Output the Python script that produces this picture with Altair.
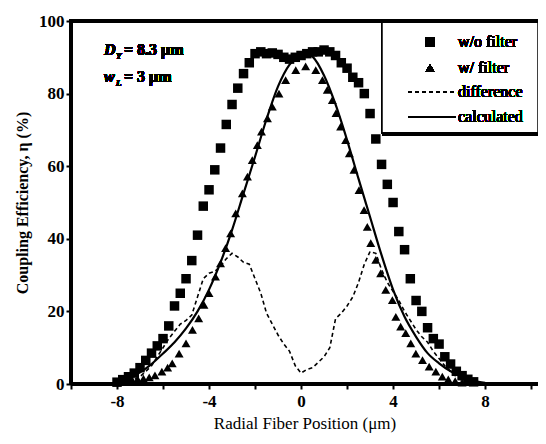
import altair as alt
import pandas as pd

# w/o filter (squares)
sq_x = [-8.0, -7.75, -7.5, -7.25, -7.0, -6.75, -6.5, -6.25, -6.0, -5.75, -5.5, -5.25, -5.0, -4.75,
        -4.5, -4.25, -4.0, -3.75, -3.5, -3.25, -3.0, -2.75, -2.5, -2.25, -2.0, -1.75, -1.5, -1.25,
        -1.0, -0.75, -0.5, -0.25, 0.0, 0.25, 0.5, 0.75, 1.0, 1.25, 1.5, 1.75, 2.0, 2.25, 2.5, 2.75,
        3.0, 3.25, 3.5, 3.75, 4.0, 4.25, 4.5, 4.75, 5.0, 5.25, 5.5, 5.75, 6.0, 6.25, 6.5, 6.75, 7.0,
        7.25, 7.5]
sq_y = [0.5, 1.2, 2.0, 3.0, 4.5, 6.5, 8.5, 10.5, 12.5, 16.0, 21.5, 25.0, 29.0, 34.0,
        41.0, 49.0, 53.5, 59.0, 65.0, 71.5, 77.0, 81.5, 85.5, 88.5, 91.0, 91.5, 91.0, 91.2,
        90.8, 90.0, 89.5, 90.0, 90.5, 91.0, 91.5, 91.5, 92.0, 91.5, 90.5, 88.5, 87.0, 84.5, 83.0, 80.0,
        74.5, 67.5, 60.5, 55.0, 50.0, 42.0, 37.0, 29.0, 23.0, 20.0, 15.5, 12.5, 11.0, 7.5, 5.5, 3.5, 2.3,
        1.3, 0.6]

# w/ filter (triangles)
tr_x = [-7.6, -7.35, -7.1, -6.85, -6.6, -6.35, -6.05, -5.8, -5.6, -5.3, -5.0, -4.72, -4.45, -4.22,
        -4.0, -3.72, -3.5, -3.28, -3.06, -2.84, -2.55, -2.33, -2.12, -1.9, -1.72, -1.46, -1.25, -0.96,
        -0.67, -0.23, 0.2, 0.64, 0.93, 1.14, 1.36, 1.52, 1.72, 1.94, 2.1, 2.3, 2.52, 2.74, 2.88, 3.03,
        3.25, 3.46, 3.68, 3.97, 4.12, 4.33, 4.55, 4.77, 4.99, 5.28, 5.57, 5.86, 6.14, 6.4, 6.7, 7.0]
tr_y = [1.0, 1.2, 1.3, 1.5, 1.8, 2.4, 3.4, 4.5, 5.7, 8.4, 11.2, 14.9, 18.1, 21.8,
        25.0, 29.6, 33.2, 37.4, 41.5, 47.0, 52.5, 57.1, 61.7, 65.8, 69.5, 73.2, 76.4, 80.0,
        83.7, 86.5, 87.5, 86.5, 83.7, 81.0, 78.2, 74.6, 70.9, 67.2, 63.5, 59.0, 53.4, 47.9, 43.3, 38.8,
        34.2, 30.5, 25.9, 23.1, 18.5, 15.8, 14.0, 11.2, 8.4, 6.6, 4.8, 3.4, 2.0, 1.3, 0.8, 0.4]

# difference (dashed)
df_x = [-7.5, -7.0, -6.5, -6.0, -5.75, -5.5, -5.25, -5.0, -4.75, -4.5, -4.25, -4.0, -3.75, -3.5,
        -3.25, -3.0, -2.75, -2.5, -2.25, -2.0, -1.75, -1.5, -1.25, -1.0, -0.75, -0.5, -0.25, 0.0,
        0.25, 0.5, 0.75, 1.0, 1.25, 1.5, 1.75, 2.0, 2.25, 2.5, 2.75, 3.0, 3.25, 3.5, 3.75, 4.0,
        4.25, 4.5, 4.75, 5.0, 5.25, 5.5, 5.75, 6.0, 6.25, 6.5, 6.75, 7.0, 7.5]
df_y = [0.5, 2.0, 5.0, 10.0, 12.5, 14.5, 16.5, 17.5, 19.0, 24.0, 29.0, 30.5, 31.0, 32.5,
        34.5, 36.0, 35.0, 33.5, 33.0, 29.0, 25.0, 19.5, 16.5, 13.5, 11.0, 9.0, 5.0, 3.0,
        4.0, 4.5, 6.0, 7.5, 10.0, 18.0, 19.5, 21.5, 24.0, 28.0, 33.0, 36.5, 36.0, 31.5, 28.0, 25.5,
        23.0, 20.0, 17.5, 15.0, 13.0, 11.5, 9.0, 7.0, 5.0, 3.5, 2.0, 1.0, 0.3]

# calculated (solid)
ca_x = [-8.5, -8.0, -7.5, -7.0, -6.5, -6.0, -5.5, -5.0, -4.5, -4.0, -3.5, -3.0, -2.5, -2.0, -1.5,
        -1.0, -0.5, 0.0, 0.25, 0.5, 1.0, 1.5, 2.0, 2.5, 3.0, 3.5, 4.0, 4.5, 5.0, 5.5, 6.0, 6.5, 7.0,
        7.5, 8.0]
ca_y = [0.1, 0.4, 1.5, 3.2, 5.5, 8.4, 11.5, 15.3, 20.0, 26.0, 33.5, 42.4, 52.5, 62.6, 73.0,
        82.0, 88.0, 90.6, 91.0, 90.2, 85.0, 77.0, 67.2, 56.5, 46.0, 35.5, 26.0, 18.5, 13.0, 8.5, 5.7, 3.5, 2.0,
        0.9, 0.3]

x_ticks = list(range(-10, 11))
y_ticks = list(range(0, 101, 10))

W, H = 467, 363
FONT = "Liberation Serif"

xs = alt.Scale(domain=[-10, 10.3], nice=False, zero=False)
ys = alt.Scale(domain=[0, 100], nice=False)

xax = alt.Axis(values=x_ticks, labelExpr="datum.value % 4 == 0 ? replace(datum.label, '−', '-') : ''",
               grid=False, title="Radial Fiber Position (μm)", tickSize=5, tickWidth=2,
               labelFont=FONT, titleFont=FONT, labelColor="black", titleColor="black",
               domainColor="black", tickColor="black",
               labelFontSize=17, labelFontWeight="bold", titleFontSize=17, titleFontWeight="normal",
               domainWidth=3, titlePadding=6, labelPadding=4)
yax = alt.Axis(values=y_ticks, labelExpr="datum.value % 20 == 0 ? datum.label : ''",
               grid=False, title="Coupling Efficiency, η (%)", tickSize=5, tickWidth=2,
               labelFont=FONT, titleFont=FONT, labelColor="black", titleColor="black",
               domainColor="black", tickColor="black",
               labelFontSize=17, labelFontWeight="bold", titleFontSize=16, titleFontWeight="bold",
               domainWidth=3, titlePadding=8, labelPadding=2)

sq = pd.DataFrame({"x": sq_x, "y": sq_y})
tr = pd.DataFrame({"x": tr_x, "y": tr_y})
dfd = pd.DataFrame({"x": df_x, "y": df_y})
ca = pd.DataFrame({"x": ca_x, "y": ca_y})

base_x = alt.X("x:Q", scale=xs, axis=xax)
base_y = alt.Y("y:Q", scale=ys, axis=yax)

calc = alt.Chart(ca).mark_line(color="black", strokeWidth=2.2, interpolate="monotone").encode(x=base_x, y=base_y)
diff = alt.Chart(dfd).mark_line(color="black", strokeWidth=1.6, strokeDash=[4, 3]).encode(x=alt.X("x:Q", scale=xs), y=alt.Y("y:Q", scale=ys))
squares = alt.Chart(sq).mark_point(shape="square", filled=True, color="black", size=90, opacity=1).encode(x=alt.X("x:Q", scale=xs), y=alt.Y("y:Q", scale=ys))
tris = alt.Chart(tr).mark_point(shape="triangle-up", filled=True, color="black", size=80, opacity=1).encode(x=alt.X("x:Q", scale=xs), y=alt.Y("y:Q", scale=ys))

# frame lines
top_line = alt.Chart(sq).mark_rule(color="black", strokeWidth=4).encode(
    x=alt.value(-2), x2=alt.value(W), y=alt.value(0))
left_line = alt.Chart(sq).mark_rule(color="black", strokeWidth=3).encode(
    x=alt.value(0), y=alt.value(0), y2=alt.value(H))
bottom_line = alt.Chart(sq).mark_rule(color="black", strokeWidth=3).encode(
    x=alt.value(0), x2=alt.value(W), y=alt.value(H))

# legend
leg_labels = ["w/o filter", "w/ filter", "difference", "calculated"]
leg_rows = [21, 47, 71, 96]
box = alt.Chart(sq).mark_rect(fill="white", stroke="black", strokeWidth=1.5).encode(
    x=alt.value(311), x2=alt.value(W), y=alt.value(0), y2=alt.value(112))
box_bottom = alt.Chart(sq).mark_rule(color="black", strokeWidth=4).encode(
    x=alt.value(311), x2=alt.value(W), y=alt.value(113))
leg_sq = alt.Chart(sq).mark_point(shape="square", filled=True, color="black", size=90, opacity=1).encode(
    x=alt.value(359), y=alt.value(leg_rows[0]))
leg_tr = alt.Chart(sq).mark_point(shape="triangle-up", filled=True, color="black", size=80, opacity=1).encode(
    x=alt.value(359), y=alt.value(leg_rows[1]))
leg_d = alt.Chart(sq).mark_rule(color="black", strokeWidth=1.6, strokeDash=[4, 3]).encode(
    x=alt.value(337), x2=alt.value(385), y=alt.value(leg_rows[2]))
leg_c = alt.Chart(sq).mark_rule(color="black", strokeWidth=2).encode(
    x=alt.value(337), x2=alt.value(385), y=alt.value(leg_rows[3]))
leg_texts = [
    alt.Chart(sq).mark_text(text=lab, align="left", baseline="middle", font=FONT, fontSize=16,
                            color="black").encode(x=alt.value(387), y=alt.value(r))
    for lab, r in zip(leg_labels, leg_rows)
]

# annotation
ann = [
    alt.Chart(sq).mark_text(text="D", align="left", baseline="alphabetic", font=FONT, fontSize=16,
                            fontWeight="bold", fontStyle="italic", color="black").encode(x=alt.value(33), y=alt.value(34)),
    alt.Chart(sq).mark_text(text="Y", align="left", baseline="alphabetic", font=FONT, fontSize=9,
                            fontWeight="bold", fontStyle="italic", color="black").encode(x=alt.value(45), y=alt.value(38)),
    alt.Chart(sq).mark_text(text="= 8.3 μm", align="left", baseline="alphabetic", font=FONT, fontSize=16,
                            fontWeight="bold", color="black").encode(x=alt.value(53), y=alt.value(34)),
    alt.Chart(sq).mark_text(text="w", align="left", baseline="alphabetic", font=FONT, fontSize=16,
                            fontWeight="bold", fontStyle="italic", color="black").encode(x=alt.value(33), y=alt.value(61)),
    alt.Chart(sq).mark_text(text="L", align="left", baseline="alphabetic", font=FONT, fontSize=9,
                            fontWeight="bold", fontStyle="italic", color="black").encode(x=alt.value(45), y=alt.value(65)),
    alt.Chart(sq).mark_text(text="= 3 μm", align="left", baseline="alphabetic", font=FONT, fontSize=16,
                            fontWeight="bold", color="black").encode(x=alt.value(53), y=alt.value(61)),
]

chart = alt.layer(calc, diff, squares, tris, box, box_bottom, top_line, left_line, bottom_line,
                  leg_sq, leg_tr, leg_d, leg_c, *leg_texts, *ann).properties(
    width=W, height=H,
    autosize=alt.AutoSizeParams(type="none"),
    padding={"left": 63, "top": 13, "right": 0, "bottom": 52},
    background="white",
).configure_view(strokeWidth=0)

chart.save("out.html", embed_options={"renderer": "svg", "actions": False})
